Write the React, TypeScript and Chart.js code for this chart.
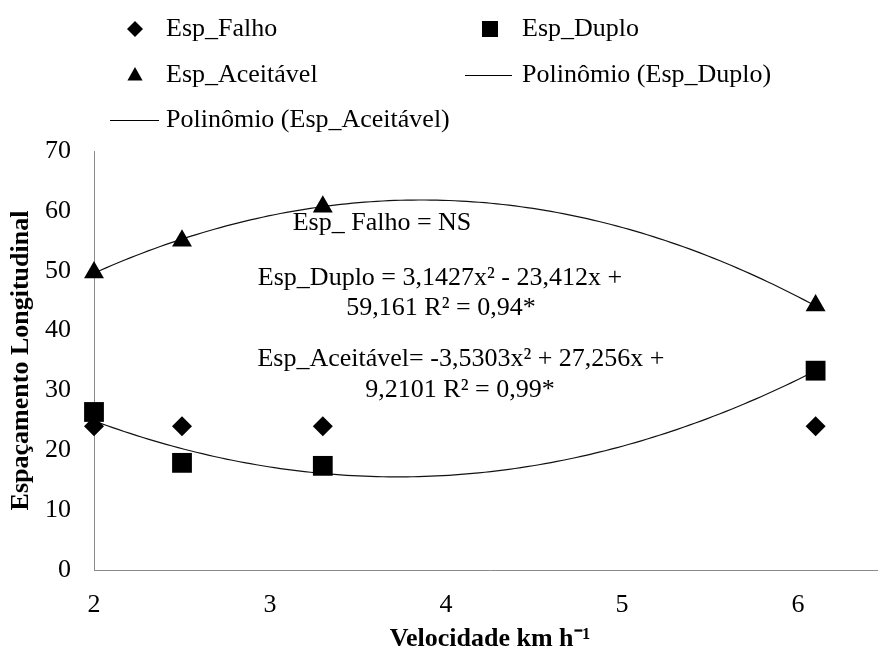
import React, { useEffect, useRef } from 'react';
import { Chart, registerables } from 'chart.js';

Chart.register(...registerables);

// ---- data ----
const velocidade = [2, 2.5, 3.3, 6.1];
const espFalho = [24, 24, 24, 24];
const espDuplo = [26.4, 17.9, 17.4, 33.3];
const espAceitavel = [49.7, 55.0, 60.7, 44.2];
// polynomial trendline coefficients shown on the chart: c0 + c1 x + c2 x^2
const coefDuplo = [59.161, -23.412, 3.1427];
const coefAceitavel = [9.2101, 27.256, -3.5303];
const xTicks = [2, 3, 4, 5, 6];
const yTicks = [0, 10, 20, 30, 40, 50, 60, 70];
const seriesLabels = [
  'Esp_Falho',
  'Esp_Duplo',
  'Esp_Aceitável',
  'Polinômio (Esp_Duplo)',
  'Polinômio (Esp_Aceitável)',
];
const annotationLines = [
  'Esp_ Falho = NS',
  'Esp_Duplo = 3,1427x² - 23,412x +',
  '59,161 R² = 0,94*',
  'Esp_Aceitável= -3,5303x² + 27,256x +',
  '9,2101 R² = 0,99*',
];

// ---- styling / layout ----
const FONT = '"Liberation Serif", "Times New Roman", serif';
const FS = 26;
const AXIS = '#8a8a8a';
const annotationPos = [
  [382, 223],
  [440, 278],
  [441, 308],
  [461, 359],
  [460, 390],
];
const legendSlots = [
  { kind: 'diamond', mx: 135, y: 29, tx: 166 },
  { kind: 'square', mx: 490, y: 29, tx: 522 },
  { kind: 'triangle', mx: 135, y: 75, tx: 166 },
  { kind: 'line', x0: 465, x1: 512, y: 75, tx: 522 },
  { kind: 'line', x0: 110, x1: 159, y: 120, tx: 166 },
];

function trend(coef: number[], x0: number, x1: number, n: number) {
  const pts: { x: number; y: number }[] = [];
  for (let i = 0; i <= n; i++) {
    const x = x0 + ((x1 - x0) * i) / n;
    pts.push({ x, y: coef[0] + coef[1] * x + coef[2] * x * x });
  }
  return pts;
}

function drawShape(ctx: CanvasRenderingContext2D, kind: string, x: number, y: number, r: number) {
  ctx.beginPath();
  if (kind === 'diamond') {
    ctx.moveTo(x, y - r);
    ctx.lineTo(x + r, y);
    ctx.lineTo(x, y + r);
    ctx.lineTo(x - r, y);
  } else if (kind === 'square') {
    ctx.rect(x - r, y - r, 2 * r, 2 * r);
  } else {
    ctx.moveTo(x, y - r);
    ctx.lineTo(x + r * 0.95, y + r * 0.7);
    ctx.lineTo(x - r * 0.95, y + r * 0.7);
  }
  ctx.closePath();
  ctx.fill();
}

const overlayPlugin = {
  id: 'overlay',
  afterDraw(chart: any) {
    const ctx: CanvasRenderingContext2D = chart.ctx;
    ctx.save();
    ctx.fillStyle = '#000';
    ctx.strokeStyle = '#000';
    ctx.font = `${FS}px ${FONT}`;
    ctx.textBaseline = 'middle';
    // legend
    legendSlots.forEach((s: any, i) => {
      const label = chart.data.datasets[i].label;
      if (s.kind === 'line') {
        ctx.lineWidth = 1;
        ctx.beginPath();
        ctx.moveTo(s.x0, s.y + 0.5);
        ctx.lineTo(s.x1, s.y + 0.5);
        ctx.stroke();
      } else {
        drawShape(ctx, s.kind, s.mx, s.y, 8);
      }
      ctx.textAlign = 'left';
      ctx.fillText(label, s.tx, s.y);
    });
    // equations
    ctx.textAlign = 'center';
    annotationLines.forEach((t, i) => {
      ctx.fillText(t, annotationPos[i][0], annotationPos[i][1]);
    });
    ctx.restore();
  },
};

export default function App() {
  const ref = useRef<HTMLCanvasElement>(null);

  useEffect(() => {
    if (!ref.current) return;
    const pts = (ys: number[]) => velocidade.map((x, i) => ({ x, y: ys[i] }));
    const xMin = velocidade[0];
    const xMax = velocidade[velocidade.length - 1];
    const chart = new Chart(ref.current, {
      type: 'scatter',
      data: {
        datasets: [
          {
            label: seriesLabels[0],
            data: pts(espFalho),
            pointStyle: 'rectRot',
            pointRadius: 10,
            backgroundColor: '#000',
            borderColor: '#000',
            borderWidth: 0,
            clip: false,
            order: 1,
          },
          {
            label: seriesLabels[1],
            data: pts(espDuplo),
            pointStyle: 'rect',
            pointRadius: 14,
            backgroundColor: '#000',
            borderColor: '#000',
            borderWidth: 0,
            clip: false,
            order: 2,
          },
          {
            label: seriesLabels[2],
            data: pts(espAceitavel),
            pointStyle: 'triangle',
            pointRadius: 11.5,
            backgroundColor: '#000',
            borderColor: '#000',
            borderWidth: 0,
            clip: false,
            order: 3,
          },
          {
            label: seriesLabels[3],
            data: trend(coefDuplo, xMin, xMax, 120),
            showLine: true,
            pointRadius: 0,
            borderColor: '#111',
            borderWidth: 1.2,
            clip: false,
            order: 4,
          },
          {
            label: seriesLabels[4],
            data: trend(coefAceitavel, xMin, xMax, 120),
            showLine: true,
            pointRadius: 0,
            borderColor: '#111',
            borderWidth: 1.2,
            clip: false,
            order: 5,
          },
        ],
      },
      options: {
        responsive: false,
        animation: false,
        devicePixelRatio: 1,
        layout: { padding: { top: 151, left: 0, right: 8, bottom: 0 } },
        plugins: {
          legend: { display: false },
          tooltip: { enabled: false },
        },
        scales: {
          x: {
            type: 'linear',
            min: 2,
            max: 6.5,
            afterBuildTicks: (s: any) => {
              s.ticks = xTicks.map((v) => ({ value: v }));
            },
            afterFit: (s: any) => {
              s.height = 80;
            },
            grid: { display: false, drawTicks: false },
            border: { display: true, color: AXIS, width: 1 },
            ticks: {
              font: { family: FONT, size: FS },
              color: '#000',
              padding: 20,
              maxRotation: 0,
              autoSkip: false,
            },
            title: {
              display: true,
              text: 'Velocidade km h⁻¹',
              color: '#000',
              font: { family: FONT, size: FS, weight: 'bold', lineHeight: 0.8 },
              padding: { top: 0, bottom: 0 },
            },
          },
          y: {
            type: 'linear',
            min: 0,
            max: 70,
            afterBuildTicks: (s: any) => {
              s.ticks = yTicks.map((v) => ({ value: v }));
            },
            afterFit: (s: any) => {
              s.width = 94;
            },
            grid: { display: false, drawTicks: false },
            border: { display: true, color: AXIS, width: 1 },
            ticks: {
              font: { family: FONT, size: FS },
              color: '#000',
              padding: 23,
            },
            title: {
              display: true,
              text: 'Espaçamento Longitudinal',
              color: '#000',
              font: { family: FONT, size: FS, weight: 'bold', lineHeight: 1.2 },
              padding: { top: 6, bottom: 0 },
            },
          },
        },
      } as any,
      plugins: [overlayPlugin],
    });
    return () => chart.destroy();
  }, []);

  return (
    <div
      style={{
        position: 'absolute',
        left: 0,
        top: 0,
        width: 878,
        height: 650,
        overflow: 'hidden',
        background: '#fff',
      }}
    >
      <canvas ref={ref} width={900} height={650} style={{ display: 'block' }} />
    </div>
  );
}
